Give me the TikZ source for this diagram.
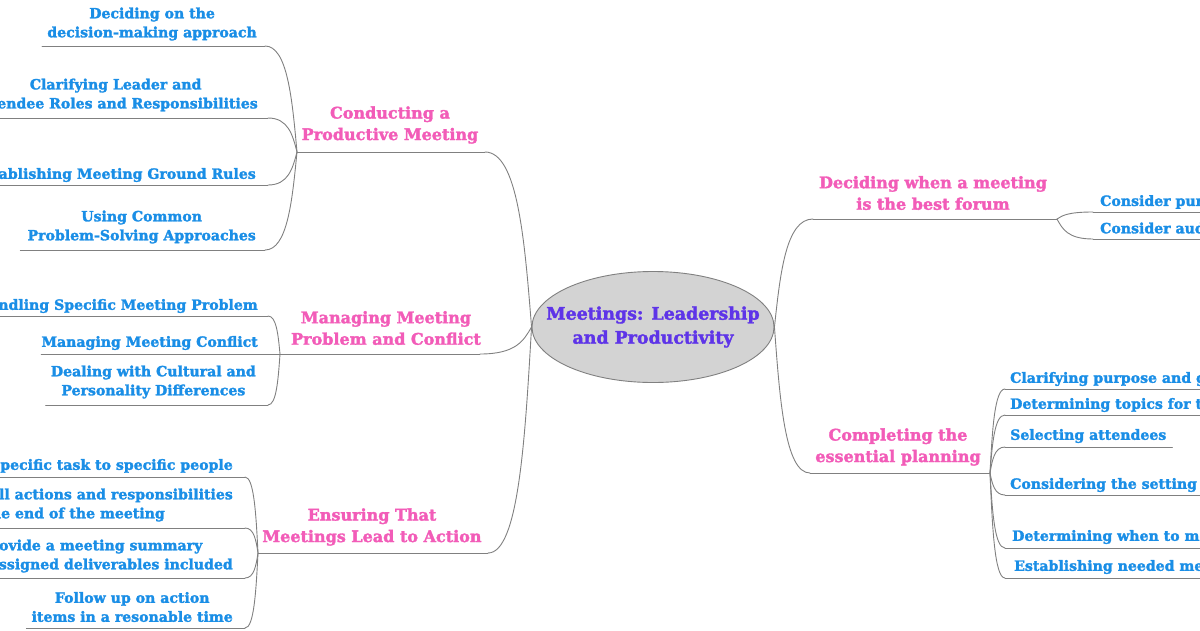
\documentclass[tikz,border=0pt]{standalone}
\usepackage{fontspec}
\setmainfont{DejaVu Serif}[BoldFeatures={FakeBold=2}]
\usetikzlibrary{calc,shapes.geometric}
\definecolor{pinkT}{HTML}{F25CB8}
\definecolor{blueS}{HTML}{1A8EE6}
\definecolor{purpC}{HTML}{5E34E8}
\definecolor{lineG}{HTML}{808080}
\definecolor{ellF}{HTML}{D3D3D3}
\newcommand\bcurve[2]{%
  \path let \p1=(#1), \p2=(#2) in
    coordinate (bcA) at ({\x1+0.7*(\x2-\x1)},\y1)
    coordinate (bcB) at ({0.5*\x2+0.5*(\x1+0.7*(\x2-\x1))},{0.5*(\y1+\y2)});
  \draw[link] (#1) .. controls (bcA) and (bcB) .. (#2);}
\begin{document}
\begin{tikzpicture}[x=1pt,y=-1pt,
  title/.style={font=\bfseries\fontsize{16}{21.5}\selectfont, text=pinkT, align=center, inner sep=0pt},
  sub/.style={font=\bfseries\fontsize{14.1}{19}\selectfont, text=blueS, align=center, inner sep=0pt},
  rootnode/.style={ellipse, draw=lineG, fill=ellF, line width=0.9pt, minimum width=242pt, minimum height=111pt,
    inner xsep=-30pt, inner ysep=0pt,
    font=\bfseries\fontsize{17.4}{24}\selectfont, text=purpC, align=center},
  link/.style={draw=lineG, line width=0.9pt, line cap=round},
]
\useasboundingbox (0,0) rectangle (1200,630);
\clip (0,0) rectangle (1200,630);

% root
\node[rootnode] (root) at (653,327) {Meetings: Leadership\\and Productivity};

% titles
\node[title] (t1) at (390,125) {Conducting a\\Productive Meeting};
\node[title] (t2) at (386,328) {Managing Meeting\\Problem and Conflict};
\node[title] (t3) at (372,527) {Ensuring That\\Meetings Lead to Action};
\node[title] (t4) at (933,193) {Deciding when a meeting\\is the best forum};
\node[title] (t5) at (898,447) {Completing the\\essential planning};

% hubs and ends
\coordinate (h1) at (297,152); \coordinate (e1) at (485,152);
\coordinate (h2) at (280,354); \coordinate (e2) at (480,354);
\coordinate (h3) at (258,553); \coordinate (e3) at (488,553);
\coordinate (e4) at (813,219); \coordinate (h4) at (1057,219);
\coordinate (e5) at (810,473); \coordinate (h5) at (990,473);

% left subs
\node[sub, anchor=east] (s11) at (257,24) {Deciding on the\\decision-making approach};
\node[sub, anchor=east] (s12) at (258,95) {Clarifying Leader and\\Attendee Roles and Responsibilities};
\node[sub, anchor=east] (s13) at (256,175) {Establishing Meeting Ground Rules};
\node[sub, anchor=east] (s14) at (256,227) {Using Common\\Problem-Solving Approaches};
\node[sub, anchor=east] (s21) at (258,306) {Handling Specific Meeting Problem};
\node[sub, anchor=east] (s22) at (258,343) {Managing Meeting Conflict};
\node[sub, anchor=east] (s23) at (256,382) {Dealing with Cultural and\\Personality Differences};
\node[sub, anchor=east] (s31) at (233,466) {Assign specific task to specific people};
\node[sub, anchor=east] (s32) at (233,505) {Summarize all actions and responsibilities\\at the end of the meeting};
\node[sub, anchor=east] (s33) at (233,556) {Provide a meeting summary\\with assigned deliverables included};
\node[sub, anchor=east] (s34) at (233,607) {Follow up on action\\items in a resonable time};

\coordinate (e11) at (265,46);
\coordinate (e12) at (268,118);
\coordinate (e13) at (268,185);
\coordinate (e14) at (265,250);
\coordinate (e21) at (268,316);
\coordinate (e23) at (268,405);
\coordinate (e31) at (245,477);
\coordinate (e32) at (245,528);
\coordinate (e33) at (245,578);
\coordinate (e34) at (245,628);

% right subs
\node[sub, anchor=west] (s41) at (1100,202) {Consider purpose};
\node[sub, anchor=west] (s42) at (1100,228) {Consider audience};
\node[sub, anchor=west] (s51) at (1010,379) {Clarifying purpose and goals};
\node[sub, anchor=west] (s52) at (1010,405) {Determining topics for the agenda};
\node[sub, anchor=west] (s53) at (1010,436) {Selecting attendees};
\node[sub, anchor=west] (s54) at (1010,485) {Considering the setting};
\node[sub, anchor=west] (s55) at (1012,537) {Determining when to meet};
\node[sub, anchor=west] (s56) at (1014,567) {Establishing needed meeting roles};

\coordinate (e41) at (1093,212);
\coordinate (e42) at (1093,239);
\coordinate (e51) at (1005,389);
\coordinate (e52) at (1005,415);
\coordinate (e53) at (1005,447);
\coordinate (e54) at (1005,495);
\coordinate (e55) at (1005,548);
\coordinate (e56) at (1005,578);

% main branches
\draw[link] (h1) -- (e1); \bcurve{e1}{root.west}
\draw[link] (h2) -- (e2); \bcurve{e2}{root.west}
\draw[link] (h3) -- (e3); \bcurve{e3}{root.west}
\draw[link] (e4) -- (h4); \bcurve{e4}{root.east}
\draw[link] (e5) -- (h5); \bcurve{e5}{root.east}

% left sub branches
\draw[link] ($(s11.west |- e11)+(-5,0)$) -- (e11); \bcurve{e11}{h1}
\draw[link] ($(s12.west |- e12)+(-5,0)$) -- (e12); \bcurve{e12}{h1}
\draw[link] ($(s13.west |- e13)+(-5,0)$) -- (e13); \bcurve{e13}{h1}
\draw[link] ($(s14.west |- e14)+(-7,0)$) -- (e14); \bcurve{e14}{h1}
\draw[link] ($(s21.west |- e21)+(-5,0)$) -- (e21); \bcurve{e21}{h2}
\draw[link] (s22.west |- h2) -- (h2);
\draw[link] ($(s23.west |- e23)+(-5,0)$) -- (e23); \bcurve{e23}{h2}
\draw[link] ($(s31.west |- e31)+(-5,0)$) -- (e31); \bcurve{e31}{h3}
\draw[link] ($(s32.west |- e32)+(-5,0)$) -- (e32); \bcurve{e32}{h3}
\draw[link] ($(s33.west |- e33)+(-5,0)$) -- (e33); \bcurve{e33}{h3}
\draw[link] ($(s34.west |- e34)+(-5,0)$) -- (e34); \bcurve{e34}{h3}

% right sub branches
\draw[link] (e41) -- ($(s41.east |- e41)+(5,0)$); \bcurve{e41}{h4}
\draw[link] (e42) -- ($(s42.east |- e42)+(5,0)$); \bcurve{e42}{h4}
\draw[link] (e51) -- ($(s51.east |- e51)+(5,0)$); \bcurve{e51}{h5}
\draw[link] (e52) -- ($(s52.east |- e52)+(5,0)$); \bcurve{e52}{h5}
\draw[link] (e53) -- ($(s53.east |- e53)+(6,0)$); \bcurve{e53}{h5}
\draw[link] (e54) -- ($(s54.east |- e54)+(5,0)$); \bcurve{e54}{h5}
\draw[link] (e55) -- ($(s55.east |- e55)+(5,0)$); \bcurve{e55}{h5}
\draw[link] (e56) -- ($(s56.east |- e56)+(5,0)$); \bcurve{e56}{h5}
\end{tikzpicture}
\end{document}
